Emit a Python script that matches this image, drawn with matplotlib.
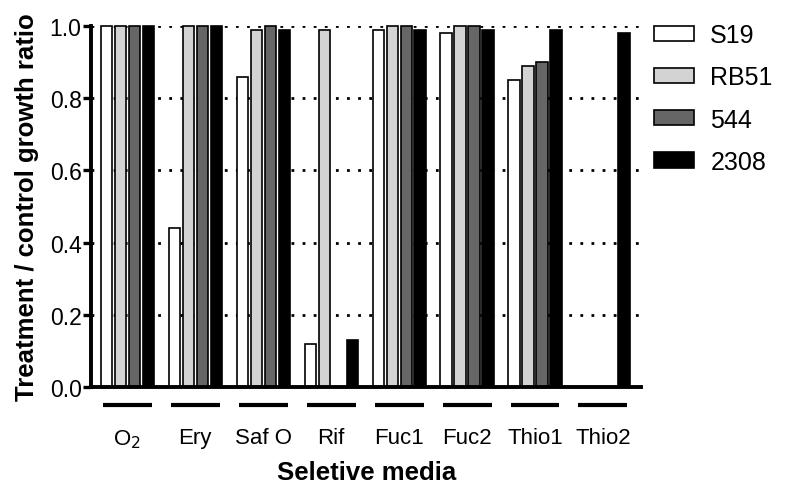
#!/usr/bin/env python3
import numpy as np
import matplotlib
matplotlib.use("Agg")
import matplotlib.pyplot as plt
import matplotlib.transforms as mtransforms

plt.rcParams['font.family'] = ['Liberation Sans', 'DejaVu Sans']

media = ['O$_2$', 'Ery', 'Saf O', 'Rif', 'Fuc1', 'Fuc2', 'Thio1', 'Thio2']
strains = ['S19', 'RB51', '544', '2308']
s19 = [1.00, 0.44, 0.86, 0.12, 0.99, 0.98, 0.85, 0.0]
rb51 = [1.00, 1.00, 0.99, 0.99, 1.00, 1.00, 0.89, 0.0]
b544 = [1.00, 1.00, 1.00, 0.0, 1.00, 1.00, 0.90, 0.0]
b2308 = [1.00, 1.00, 0.99, 0.13, 0.99, 0.99, 0.99, 0.98]
colors = ['white', '#d3d3d3', '#666666', 'black']


def main():
    fig = plt.figure(figsize=(7.87, 4.89), dpi=100)
    ax = fig.add_axes([0.116, 0.2065, 0.6985, 0.7383])

    x = np.arange(len(media))
    step = 0.206
    width = 0.165
    series = [s19, rb51, b544, b2308]
    for i, (vals, name, col) in enumerate(zip(series, strains, colors)):
        ax.bar(x + (i - 1.5) * step, vals, width, color=col, edgecolor='black',
               linewidth=1.2, label=name, zorder=3, clip_on=False)

    ax.set_xlim(-0.53, 7.56)
    ax.set_ylim(0, 1.0)
    ax.set_yticks(np.arange(0, 1.01, 0.2))
    ax.set_yticklabels([f"{v:.1f}" for v in np.arange(0, 1.01, 0.2)])
    ax.yaxis.grid(True, linestyle=(0, (1, 3)), color='black', linewidth=2.0, zorder=0)
    ax.set_axisbelow(True)

    for side in ['top', 'right']:
        ax.spines[side].set_visible(False)
    for side in ['left', 'bottom']:
        ax.spines[side].set_linewidth(2.8)
        ax.spines[side].set_zorder(4)

    ax.tick_params(axis='y', direction='out', length=6, width=2.4, labelsize=16.5, pad=1)
    ax.tick_params(axis='x', length=0, labelsize=16, pad=29)
    ax.set_xticks(x)
    ax.set_xticklabels(media)

    # group bars underneath each medium
    trans = mtransforms.blended_transform_factory(ax.transData, ax.transAxes)
    for xi in x:
        ax.plot([xi - 0.36, xi + 0.36], [-0.05, -0.05], color='black', linewidth=3,
                transform=trans, clip_on=False, solid_capstyle='butt')

    ax.set_ylabel('Treatment / control growth ratio', fontsize=18.5, fontweight='bold', labelpad=8)
    ax.set_xlabel('Seletive media', fontsize=18.5, fontweight='bold', labelpad=7)

    ax.legend(loc='upper left', bbox_to_anchor=(654 / 787, 1 - 24 / 489),
              bbox_transform=fig.transFigure, frameon=False, fontsize=18,
              handlelength=1.6, handleheight=0.56, labelspacing=0.73,
              handletextpad=0.65, borderpad=0, borderaxespad=0)

    fig.savefig('out.png', dpi=100)


if __name__ == "__main__":
    main()
